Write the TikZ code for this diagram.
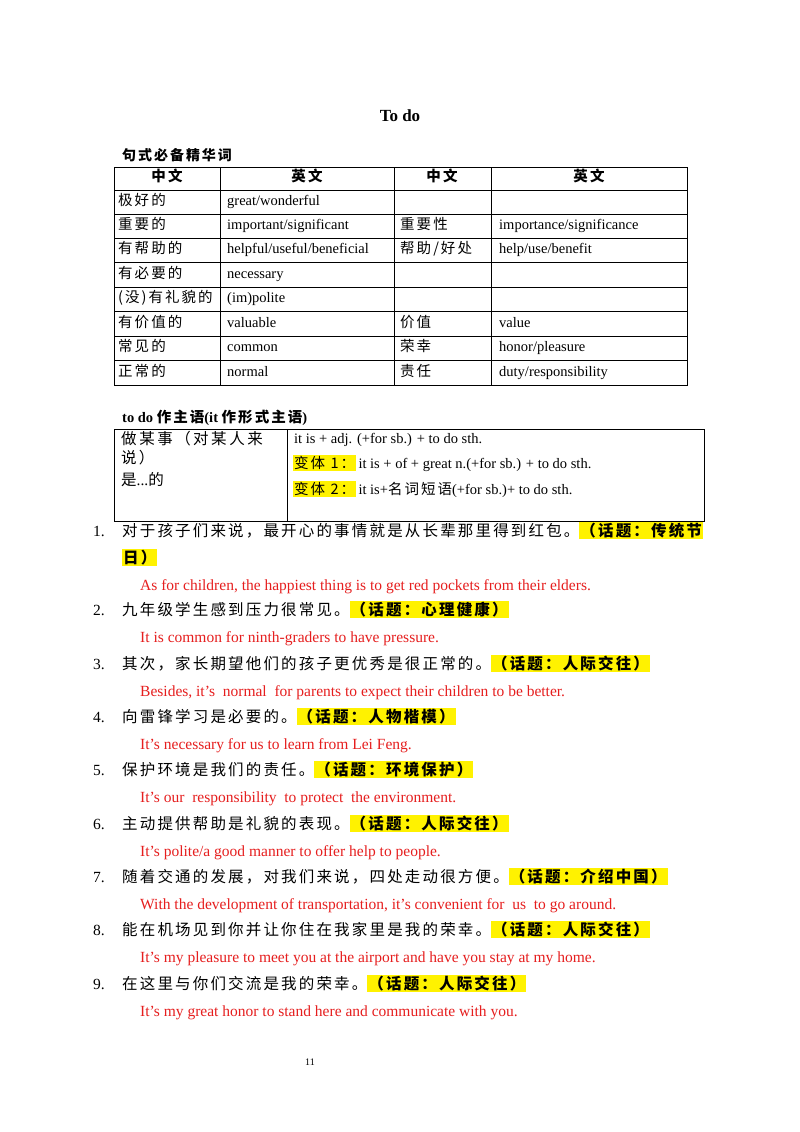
\documentclass[tikz,border=0pt]{standalone}
\usepackage{fontspec}
\setmainfont{Liberation Serif}
\newfontfamily\cjk[LetterSpace=14]{Noto Sans CJK SC}
\newcommand{\zh}[1]{{\cjk #1}}
\newcommand{\hl}[1]{{\setlength{\fboxsep}{1pt}\colorbox{yellow}{\cjk\bfseries #1}}}
\definecolor{ansred}{RGB}{230,30,30}
\begin{document}
\begin{tikzpicture}[x=1pt,y=-1pt,
    every node/.style={inner sep=0pt,anchor=west,text height=11pt,text depth=3.5pt,
      font=\fontsize{15.5}{17}\selectfont},
    head/.style={anchor=center,font=\fontsize{14.5}{16}\selectfont\cjk\bfseries},
    answer/.style={text=ansred}]
  \useasboundingbox[fill=white] (0,0) rectangle (800,1132);

  % title
  \node[anchor=center,font=\fontsize{17}{20}\selectfont\bfseries] (title) at (400,118) {To do};

  % word table
  \node[font=\fontsize{14}{16}\selectfont\cjk\bfseries] (tabA) at (122,157) {句式必备精华词};
  \draw[line width=0.7pt] (114,167) rectangle (687,385);
  \foreach \y in {190,214,238,262,287,311,336,360}
    \draw[line width=0.7pt] (114,\y) -- (687,\y);
  \foreach \x in {220,394,491}
    \draw[line width=0.7pt] (\x,167) -- (\x,385);
  \node[head] (h1) at (167,178) {中文};
  \node[head] (h2) at (307,178) {英文};
  \node[head] (h3) at (442,178) {中文};
  \node[head] (h4) at (589,178) {英文};
  \foreach \y/\a/\b/\c/\d in {
      202/{极好的}/{great/wonderful}/{}/{},
      226/{重要的}/{important/significant}/{重要性}/{importance/significance},
      250/{有帮助的}/{helpful/useful/beneficial}/{帮助/好处}/{help/use/benefit},
      275/{有必要的}/{necessary}/{}/{},
      299/{(没)有礼貌的}/{(im)polite}/{}/{},
      324/{有价值的}/{valuable}/{价值}/{value},
      348/{常见的}/{common}/{荣幸}/{honor/pleasure},
      373/{正常的}/{normal}/{责任}/{duty/responsibility}}{
    \node[font=\fontsize{14.5}{16}\selectfont] at (118,\y) {\zh{\a}};
    \node[font=\fontsize{14.5}{16}\selectfont] at (227,\y) {\b};
    \node[font=\fontsize{14.5}{16}\selectfont] at (400,\y) {\zh{\c}};
    \node[font=\fontsize{14.5}{16}\selectfont] at (499,\y) {\d};
  }

  % pattern table
  \node[font=\fontsize{14.5}{16}\selectfont\bfseries] (tabB) at (122,419) {to do \zh{作主语}(it \zh{作形式主语})};
  \draw[line width=0.7pt] (114,429) rectangle (704,521);
  \draw[line width=0.7pt] (287,429) -- (287,521);
  \node (pl1) at (121,441) {\zh{做\,某\,事\,（对\,某\,人\,来}};
  \node (pl2) at (121,460) {\zh{说）}};
  \node (pl3) at (121,482) {\zh{是}...\zh{的}};
  \node[font=\fontsize{14.5}{16}\selectfont] (pr1) at (294,440) {it is + adj. (+for sb.) + to do sth.};
  \node[font=\fontsize{14.5}{16}\selectfont] (pr2) at (293,465) {\hl{\mdseries 变体 1：}\,it is + of + great n.(+for sb.) + to do sth.};
  \node[font=\fontsize{14.5}{16}\selectfont] (pr3) at (293,491) {\hl{\mdseries 变体 2：}\,it is+\zh{名词短语}(+for sb.)+ to do sth.};

  % examples
  \foreach \n/\y/\s/\t/\e in {
      2/612/{九年级学生感到压力很常见。}/{（话题：心理健康）}/{It is common for ninth-graders to have pressure.},
      3/666/{其次，家长期望他们的孩子更优秀是很正常的。}/{（话题：人际交往）}/{Besides, it’s~ normal~ for parents to expect their children to be better.},
      4/719/{向雷锋学习是必要的。}/{（话题：人物楷模）}/{It’s necessary for us to learn from Lei Feng.},
      5/772/{保护环境是我们的责任。}/{（话题：环境保护）}/{It’s our~ responsibility~ to protect~ the environment.},
      6/826/{主动提供帮助是礼貌的表现。}/{（话题：人际交往）}/{It’s polite/a good manner to offer help to people.},
      7/879/{随着交通的发展，对我们来说，四处走动很方便。}/{（话题：介绍中国）}/{With the development of transportation, it’s convenient for~ us~ to go around.},
      8/932/{能在机场见到你并让你住在我家里是我的荣幸。}/{（话题：人际交往）}/{It’s my pleasure to meet you at the airport and have you stay at my home.},
      9/986/{在这里与你们交流是我的荣幸。}/{（话题：人际交往）}/{It’s my great honor to stand here and communicate with you.}}{
    \node (n\n) at (93,\y) {\n.};
    \node (s\n) at (122,\y) {\zh{\s}\hl{\t}};
    \node[answer] (e\n) at (140,\y+27) {\e};
  }
  \node (n1) at (93,533) {1.};
  \node (s1) at (122,533) {\zh{对于孩子们来说，最开心的事情就是从长辈那里得到红包。}\hl{（话题：传统节}};
  \node (s1b) at (122,560) {\hl{日）}};
  \node[answer] (e1) at (140,587) {As for children, the happiest thing is to get red pockets from their elders.};

  % page number
  \node[anchor=center,font=\fontsize{10}{12}\selectfont] (pg) at (310,1062) {11};
\end{tikzpicture}
\end{document}
